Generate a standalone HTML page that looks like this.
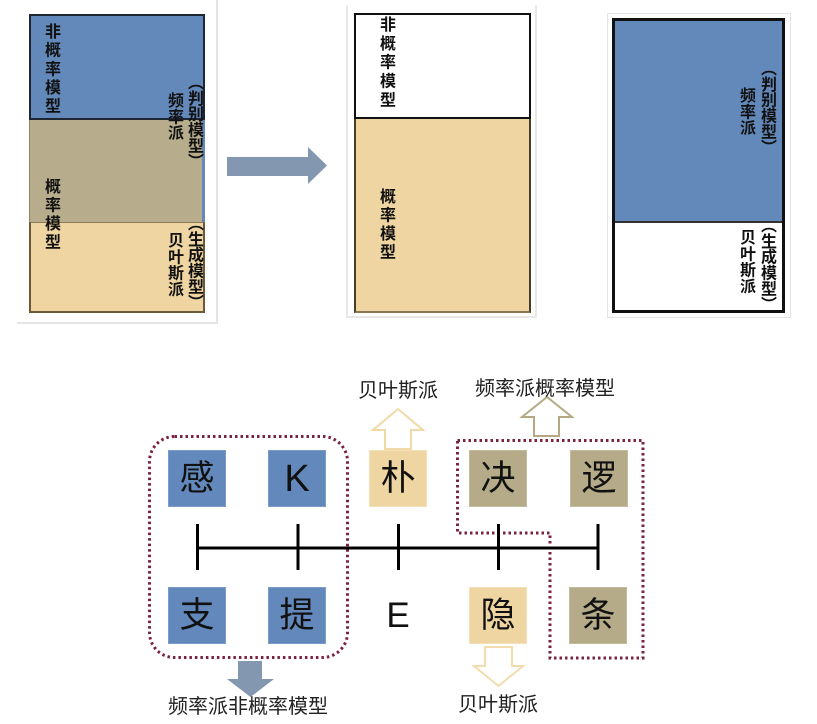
<!DOCTYPE html>
<html><head><meta charset="utf-8">
<style>
*{margin:0;padding:0;box-sizing:border-box}
body{width:817px;height:724px;background:#fff;position:relative;overflow:hidden;font-family:"Liberation Sans","Noto Sans CJK SC",sans-serif;color:#000}
.a{position:absolute}
.v{position:absolute;writing-mode:vertical-rl;font-family:"Liberation Sans","Noto Sans CJK SC",sans-serif;font-weight:bold;line-height:1;white-space:nowrap;color:#111}
.box{position:absolute;width:58px;height:57px;display:flex;align-items:center;justify-content:center;font-family:"Liberation Sans","Noto Sans CJK SC",sans-serif;font-size:35px;line-height:1;color:#111}
.bl{background:#6389bc;border:1px solid #7b9bc9}
.tn{background:#b6ab89;border:1px solid #c4bb9c}
.be{background:#efd5a2;border:1px solid #f3dfb8}
.lbl{position:absolute;font-family:"Liberation Sans","Noto Sans CJK SC",sans-serif;font-size:20px;line-height:20px;white-space:nowrap;color:#222}
</style></head><body>

<!-- Panel 1 -->
<div class="a" style="left:216px;top:0;width:2px;height:324px;background:#e4e4e4"></div>
<div class="a" style="left:17px;top:322px;width:201px;height:2px;background:#e4e4e4"></div>
<div class="a" style="left:29px;top:119px;width:176px;height:103px;background:#b7ad8d;border-left:1px solid #8a826a"></div>
<div class="a" style="left:202px;top:119px;width:3px;height:103px;background:#6389bb"></div>
<div class="a" style="left:29px;top:14px;width:176px;height:106px;background:#6389bb;border:2px solid #1e2633"></div>
<div class="a" style="left:29px;top:222px;width:176px;height:91px;background:#efd5a2;border:2px solid #6b5a3a;border-top:1px solid #8a7a55"></div>

<div class="v" style="left:42px;top:23px;font-size:16px;letter-spacing:2.6px">非概率模型</div>
<div class="v" style="left:42px;top:178px;font-size:16px;letter-spacing:2.5px">概率模型</div>
<div class="v" style="left:185px;top:74px;font-size:16px;letter-spacing:-0.2px">（判别模型）</div>
<div class="v" style="left:165px;top:92px;font-size:16px;letter-spacing:0.3px">频率派</div>
<div class="v" style="left:185px;top:215px;font-size:16px;letter-spacing:-0.2px">（生成模型）</div>
<div class="v" style="left:165px;top:232px;font-size:16px;letter-spacing:0.3px">贝叶斯派</div>

<!-- big arrow -->
<svg class="a" style="left:0;top:0" width="817" height="724">
  <polygon points="227,157 308,157 308,147 327,165.5 308,184 308,176 227,176" fill="#8497b0"/>
</svg>

<!-- Panel 2 -->
<div class="a" style="left:346px;top:5px;width:2px;height:313px;background:#e8e8e8"></div>
<div class="a" style="left:535px;top:5px;width:2px;height:313px;background:#e8e8e8"></div>
<div class="a" style="left:346px;top:316px;width:191px;height:2px;background:#e8e8e8"></div>
<div class="a" style="left:354px;top:117px;width:177px;height:196px;background:#efd5a2;border:2px solid #4a3e28;border-bottom:2px solid #8a7650"></div>
<div class="a" style="left:354px;top:13px;width:177px;height:106px;background:#fff;border:2.5px solid #111"></div>
<div class="v" style="left:377px;top:16px;font-size:16px;letter-spacing:2.8px">非概率模型</div>
<div class="v" style="left:377px;top:188px;font-size:16px;letter-spacing:2.5px">概率模型</div>

<!-- Panel 3 -->
<div class="a" style="left:607px;top:13px;width:184px;height:305px;border:1.5px solid #e4e4e4"></div>
<div class="a" style="left:612px;top:18px;width:173px;height:204px;background:#6389bb"></div>
<div class="a" style="left:612px;top:221px;width:173px;height:1.5px;background:#333"></div>
<div class="a" style="left:612px;top:18px;width:173px;height:295px;border:3px solid #111"></div>
<div class="v" style="left:758px;top:60px;font-size:16px;letter-spacing:-0.2px">（判别模型）</div>
<div class="v" style="left:737px;top:87px;font-size:16px;letter-spacing:0.3px">频率派</div>
<div class="v" style="left:758px;top:217px;font-size:16px;letter-spacing:-0.2px">（生成模型）</div>
<div class="v" style="left:737px;top:229px;font-size:16px;letter-spacing:0.3px">贝叶斯派</div>

<!-- Bottom diagram -->
<svg class="a" style="left:0;top:0" width="817" height="724">
  <!-- dotted regions -->
  <rect x="149.5" y="436.5" width="198" height="221" rx="25" ry="25" fill="none" stroke="#7b2141" stroke-width="3" stroke-dasharray="2.5 3"/>
  <path d="M457.5,440.5 H643 V658 H550 V533 H457.5 Z" fill="none" stroke="#7b2141" stroke-width="3" stroke-dasharray="2.5 3"/>
  <!-- axis -->
  <line x1="196" y1="548" x2="599" y2="548" stroke="#000" stroke-width="3"/>
  <g stroke="#000" stroke-width="3">
    <line x1="197.5" y1="524" x2="197.5" y2="570"/>
    <line x1="298" y1="524" x2="298" y2="570"/>
    <line x1="398.5" y1="524" x2="398.5" y2="570"/>
    <line x1="498.5" y1="524" x2="498.5" y2="570"/>
    <line x1="598" y1="524" x2="598" y2="570"/>
  </g>
  <!-- hollow up arrow over 朴 -->
  <polygon points="385,449 411,449 411,430 423,430 398,409 373,430 385,430" fill="#fff" stroke="#f0d9a6" stroke-width="2"/>
  <!-- hollow up arrow over 决/逻 -->
  <polygon points="534,436 559,436 559,417 572,417 547,397 522,417 534,417" fill="#fff" stroke="#b5a883" stroke-width="2"/>
  <!-- hollow down arrow under 隐 -->
  <polygon points="485,647 512,647 512,666 523,666 498.5,686 474,666 485,666" fill="#fff" stroke="#f2dcae" stroke-width="2"/>
  <!-- solid down arrow -->
  <polygon points="238,661 262,661 262,679 274,679 250.5,697 227,679 238,679" fill="#8497b0"/>
</svg>

<div class="box bl" style="left:168px;top:450px">感</div>
<div class="box bl" style="left:268px;top:450px;font-size:38px">K</div>
<div class="box be" style="left:369px;top:450px">朴</div>
<div class="box tn" style="left:469px;top:450px">决</div>
<div class="box tn" style="left:570px;top:450px">逻</div>

<div class="box bl" style="left:168px;top:587px">支</div>
<div class="box bl" style="left:268px;top:587px">提</div>
<div class="a" style="left:369px;top:587px;width:58px;height:57px;display:flex;align-items:center;justify-content:center;font-size:35px;line-height:1;color:#111">E</div>
<div class="box be" style="left:469px;top:587px">隐</div>
<div class="box tn" style="left:569px;top:587px">条</div>

<div class="lbl" style="left:358px;top:381px">贝叶斯派</div>
<div class="lbl" style="left:475px;top:379px">频率派概率模型</div>
<div class="lbl" style="left:168px;top:697px">频率派非概率模型</div>
<div class="lbl" style="left:458px;top:695px">贝叶斯派</div>

</body></html>
